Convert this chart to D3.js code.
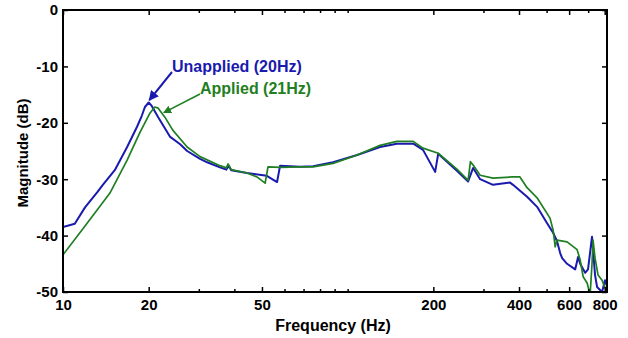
<!DOCTYPE html>
<html>
<head>
<meta charset="utf-8">
<script src="https://cdn.jsdelivr.net/npm/d3@7"></script>
<style>
  body { margin: 0; background: #fff; }
  text { font-family: "Liberation Sans", Arial, sans-serif; font-weight: bold; }
</style>
</head>
<body>
<svg id="chart" width="628" height="338"></svg>
<script>
// Unapplied (blue) trace
var unappliedFreq = [10, 11, 11.95, 13.2, 13.8, 15.2, 16.8, 18.2, 18.9, 19.4, 20, 20.5, 21.6, 23.8, 25.8, 27.3,
  30.3, 32.1, 35.6, 37.5, 38.2, 39, 44.3, 52, 56.5, 57.9, 68, 75.6, 88.9, 108, 130, 149, 170, 184, 203, 208,
  242, 265, 276, 292, 324, 372, 381, 427, 463, 502, 527, 544, 558, 567, 590, 630, 645, 656, 683, 699, 722,
  740, 752, 783, 802, 815];
var unappliedMag = [-38.5, -37.9, -35.0, -32.3, -31.0, -28.4, -24.3, -20.7, -18.8, -17.2, -16.4, -17.0, -19.0,
  -22.5, -23.8, -25.0, -26.4, -27.0, -27.9, -28.3, -27.6, -28.4, -28.9, -29.4, -30.5, -27.6, -27.8, -27.7,
  -27.0, -25.7, -24.3, -23.7, -23.7, -24.8, -28.7, -25.5, -28.5, -30.4, -28.0, -30.0, -31.0, -30.6, -31.0,
  -33.1, -34.9, -37.8, -39.5, -41.0, -43.1, -44.0, -45.0, -46.0, -43.8, -45.0, -46.6, -46.0, -40.2, -47.0,
  -49.1, -50.0, -47.9, -49.0];

// Applied (green) trace
var appliedFreq = [10, 11.95, 14.6, 16.8, 18.6, 20.2, 21.0, 21.6, 22.8, 24.3, 27.3, 30.3, 35.6, 37.5, 38, 39, 44.3,
  48, 51.3, 52.5, 57.9, 68, 75.6, 88.9, 108, 130, 149, 170, 184, 208, 242, 265, 270, 276, 292, 324, 381, 403,
  427, 463, 514, 527, 536, 544, 590, 640, 656, 672, 694, 711, 722, 728, 740, 758, 783, 802, 815];
var appliedMag = [-43.4, -38.3, -32.5, -26.6, -21.8, -18.3, -17.2, -17.4, -19.0, -21.3, -24.3, -26.0, -27.6, -28.0,
  -27.3, -28.3, -28.9, -29.6, -30.7, -27.8, -27.9, -27.8, -27.8, -27.2, -25.7, -24.0, -23.3, -23.3, -24.5,
  -25.4, -28.2, -30.2, -26.9, -27.5, -29.3, -29.8, -29.6, -29.6, -31.5, -33.3, -36.9, -39.0, -42.0, -40.8,
  -41.1, -42.5, -44.3, -47.3, -48.4, -50.5, -45.0, -40.8, -44.0, -47.0, -47.9, -49.3, -49.5];

var xTickValues = [10, 20, 50, 200, 400, 600, 800];
var xMinorTicks = [30, 40, 60, 70, 80, 90, 100, 300, 500, 700];
var yTickValues = [-50, -40, -30, -20, -10, 0];

function toPoints(freq, mag) {
  return freq.map(function(f, i) { return {f: f, m: mag[i]}; });
}

function drawChart() {
  var svg = d3.select("#chart");
  var left = 63, right = 607, top = 10, bottom = 292;

  var x = d3.scaleLog().domain([10, 815]).range([left, right]);
  var y = d3.scaleLinear().domain([-50, 0]).range([bottom, top]);
  var plain = function(d) { return String(d); };   // keep ASCII hyphen for negatives

  svg.append("defs").append("clipPath").attr("id", "plotclip")
    .append("rect")
    .attr("x", left).attr("y", top)
    .attr("width", right - left).attr("height", bottom - top);

  var line = d3.line()
    .x(function(d) { return x(d.f); })
    .y(function(d) { return y(d.m); });

  var plot = svg.append("g").attr("clip-path", "url(#plotclip)");

  plot.append("path")
    .datum(toPoints(unappliedFreq, unappliedMag))
    .attr("d", line)
    .attr("fill", "none")
    .attr("stroke", "#1a1aae")
    .attr("stroke-width", 2)
    .attr("stroke-linejoin", "round");

  plot.append("path")
    .datum(toPoints(appliedFreq, appliedMag))
    .attr("d", line)
    .attr("fill", "none")
    .attr("stroke", "#1f7f22")
    .attr("stroke-width", 1.7)
    .attr("stroke-linejoin", "round");

  // axes: inward ticks on all four sides, labels only bottom and left
  svg.append("g")
    .attr("transform", "translate(0," + bottom + ")")
    .call(d3.axisBottom(x).tickValues(xMinorTicks).tickSize(-3).tickFormat(""));
  svg.append("g")
    .attr("transform", "translate(0," + bottom + ")")
    .call(d3.axisBottom(x).tickValues(xTickValues).tickSize(-5).tickPadding(7).tickFormat(plain));
  svg.append("g")
    .attr("transform", "translate(0," + top + ")")
    .call(d3.axisTop(x).tickValues(xMinorTicks).tickSize(-3).tickFormat(""));
  svg.append("g")
    .attr("transform", "translate(0," + top + ")")
    .call(d3.axisTop(x).tickValues(xTickValues).tickSize(-5).tickFormat(""));
  svg.append("g")
    .attr("transform", "translate(" + left + ",0)")
    .call(d3.axisLeft(y).tickValues(yTickValues).tickSize(-5).tickPadding(5).tickFormat(plain));
  svg.append("g")
    .attr("transform", "translate(" + right + ",0)")
    .call(d3.axisRight(y).tickValues(yTickValues).tickSize(-5).tickFormat(""));

  svg.selectAll(".domain").remove();
  svg.selectAll(".tick line").attr("stroke", "#000").attr("stroke-width", 1.5);
  svg.selectAll(".tick text")
    .attr("fill", "#000")
    .style("font-size", "15px")
    .style("font-family", "'Liberation Sans', Arial, sans-serif")
    .style("font-weight", "bold");

  svg.append("rect")
    .attr("x", left).attr("y", top)
    .attr("width", right - left).attr("height", bottom - top)
    .attr("fill", "none")
    .attr("stroke", "#000")
    .attr("stroke-width", 2);

  svg.append("text")
    .attr("x", 333).attr("y", 331)
    .attr("text-anchor", "middle")
    .style("font-size", "16px")
    .text("Frequency (Hz)");

  svg.append("text")
    .attr("transform", "translate(28,153) rotate(-90)")
    .attr("text-anchor", "middle")
    .style("font-size", "15px")
    .text("Magnitude (dB)");

  // annotations with arrows
  var marker = function(id, color) {
    svg.select("defs").append("marker")
      .attr("id", id)
      .attr("viewBox", "0 0 10 10")
      .attr("refX", 9).attr("refY", 5)
      .attr("markerWidth", 5).attr("markerHeight", 5)
      .attr("orient", "auto")
      .append("path")
      .attr("d", "M0,0L10,5L0,10z")
      .attr("fill", color);
  };
  marker("arrBlue", "#1a1aae");
  marker("arrGreen", "#1f7f22");

  svg.append("line")
    .attr("x1", 172).attr("y1", 72)
    .attr("x2", x(20.1)).attr("y2", y(-16.0))
    .attr("stroke", "#1a1aae").attr("stroke-width", 2)
    .attr("marker-end", "url(#arrBlue)");
  svg.append("line")
    .attr("x1", 200).attr("y1", 94)
    .attr("x2", x(22.6)).attr("y2", y(-18.2))
    .attr("stroke", "#1f7f22").attr("stroke-width", 1.6)
    .attr("marker-end", "url(#arrGreen)");

  svg.append("text")
    .attr("x", 172).attr("y", 72)
    .attr("fill", "#1a1aae")
    .style("font-size", "16px")
    .text("Unapplied (20Hz)");
  svg.append("text")
    .attr("x", 200).attr("y", 94)
    .attr("fill", "#1f7f22")
    .style("font-size", "16px")
    .text("Applied (21Hz)");
}

drawChart();
</script>
</body>
</html>
